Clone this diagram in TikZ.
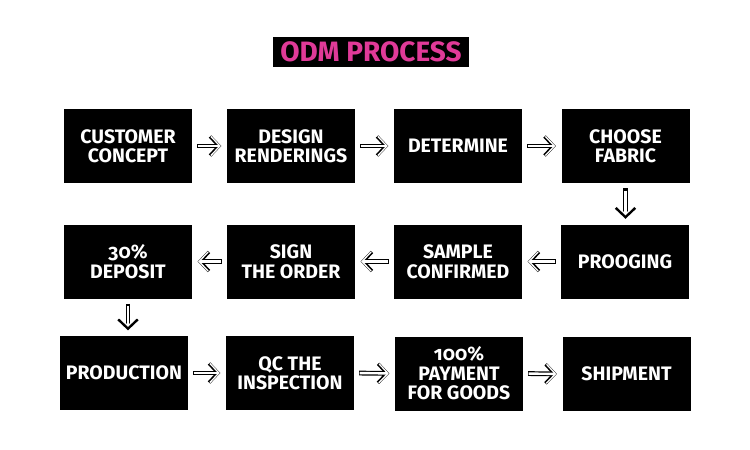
\documentclass[tikz,border=0pt]{standalone}
\usepackage{fontspec}
\setmainfont{Fira Sans}[Numbers=OldStyle]
\usetikzlibrary{arrows.meta}
\definecolor{odmpink}{HTML}{E03A98}
\tikzset{
  stepbox/.style={fill=black, text=white, minimum width=128pt, minimum height=74pt,
    inner sep=0pt, align=center, font=\fontsize{19.5}{19.5}\selectfont\bfseries},
  flow/.style={draw=white, line width=2.4pt,
    -{Straight Barb[length=9pt, width=19pt, line width=1.3pt]},
    shorten >=6pt, shorten <=5.5pt,
    preaction={draw=black, line width=4.8pt,
      -{Straight Barb[length=9pt, width=19pt, line width=3.3pt]},
      shorten >=5.5pt, shorten <=5pt}},
  vflow/.style={flow, shorten >=9pt, shorten <=7.5pt,
    preaction={shorten >=8.5pt, shorten <=7pt}}
}
\begin{document}
\begin{tikzpicture}[x=1pt,y=-1pt]
\useasboundingbox (0,0) rectangle (750,450);
\fill[white] (0,0) rectangle (750,450);
\node[fill=black, text=odmpink, minimum width=196pt, minimum height=30pt, inner sep=0pt,
  font=\fontsize{28}{28}\selectfont\bfseries] (title) at (371,52) {ODM PROCESS};
\node[stepbox] (a1) at (128,146) {CUSTOMER\\CONCEPT};
\node[stepbox] (a2) at (291,146) {DESIGN\\RENDERINGS};
\node[stepbox] (a3) at (458,146) {DETERMINE};
\node[stepbox] (a4) at (625.5,146) {CHOOSE\\FABRIC};
\node[stepbox] (b4) at (625,261.5) {PROOGING};
\node[stepbox] (b3) at (458,261.5) {SAMPLE\\CONFIRMED};
\node[stepbox] (b2) at (291,261.5) {SIGN\\THE ORDER};
\node[stepbox] (b1) at (128,261.5) {30\%\\DEPOSIT};
\node[stepbox] (c1) at (124,373) {PRODUCTION};
\node[stepbox] (c2) at (290,373) {QC THE\\INSPECTION};
\node[stepbox] (c3) at (459,373.5) {100\%\\PAYMENT\\FOR GOODS};
\node[stepbox] (c4) at (626.5,374) {SHIPMENT};
\draw[flow] (a1.east) -- (a2.west);
\draw[flow] (a2.east) -- (a3.west);
\draw[flow] (a3.east) -- (a4.west);
\draw[vflow] (a4.south) -- (a4.south |- b4.north);
\draw[flow] (b4.west) -- (b3.east);
\draw[flow] (b3.west) -- (b2.east);
\draw[flow] (b2.west) -- (b1.east);
\draw[vflow] (b1.south) -- (b1.south |- c1.north);
\draw[flow] (c1.east) -- (c2.west);
\draw[flow] (c2.east) -- (c3.west);
\draw[flow] (c3.east) -- (c4.west);
\end{tikzpicture}
\end{document}
